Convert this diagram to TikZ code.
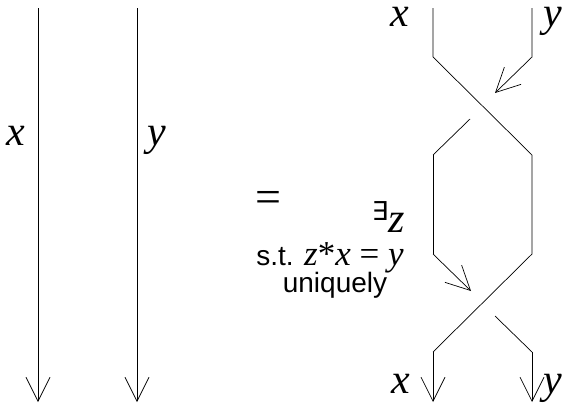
\documentclass[tikz,border=0pt]{standalone}
\usepackage{fontspec}
\setmainfont{Liberation Serif}
\setsansfont{Liberation Sans}
\newfontfamily\symfont{DejaVu Sans}
\usetikzlibrary{arrows.meta}

\begin{document}
\begin{tikzpicture}[x=1pt, y=-1pt,
  strand/.style={line width=0.7pt},
  tip/.style={-{Straight Barb[length=24pt,width=24pt,line width=0.7pt]}},
  lbl/.style={anchor=base, inner sep=0pt, font=\fontsize{42}{42}\selectfont\itshape},
  txt/.style={anchor=base, inner sep=0pt, font=\fontsize{28}{28}\selectfont\sffamily}
]
\useasboundingbox (0,0) rectangle (564,405);
% left: two straight strands
\coordinate (xa) at (38,8);   \coordinate (xb) at (38,402);
\coordinate (ya) at (137,8);  \coordinate (yb) at (137,402);
\draw[strand,tip] (xa) -- (xb);
\draw[strand,tip] (ya) -- (yb);
\node[lbl] (xl) at (16,145) {x};
\node[lbl] (yl) at (157,145) {y};
% right: braid, upper crossing
\coordinate (p1) at (433,8);   \coordinate (q1) at (532,8);
\coordinate (p2) at (433,57);  \coordinate (q2) at (532,57);
\coordinate (p3) at (433,155); \coordinate (q3) at (532,155);
\coordinate (u1) at (495,93);  \coordinate (u2) at (470,119);
\draw[strand] (p1) -- (p2) -- (q3);
\draw[strand,tip] (q1) -- (q2) -- (u1);
\draw[strand] (u2) -- (p3);
% lower crossing
\coordinate (p4) at (433,254); \coordinate (q4) at (532,254);
\coordinate (p5) at (433,352); \coordinate (q5) at (532,352);
\coordinate (p6) at (433,402); \coordinate (q6) at (532,402);
\coordinate (w1) at (471,291); \coordinate (w2) at (495,316);
\draw[strand] (p3) -- (p4);
\draw[strand] (q3) -- (q4) -- (p5);
\draw[strand,tip] (p4) -- (w1);
\draw[strand] (w2) -- (q5);
\draw[strand,tip] (p5) -- (p6);
\draw[strand,tip] (q5) -- (q6);
\node[lbl] (xt) at (400,26) {x};
\node[lbl] (yt) at (553,26) {y};
\node[lbl] (xbl) at (401,393) {x};
\node[lbl] (ybl) at (553,393) {y};
% middle text
\node[anchor=center, inner sep=0pt, font=\fontsize{46}{46}\selectfont] (eq) at (268,202) {=};
\node[anchor=center, inner sep=0pt, font=\fontsize{26}{26}\selectfont\symfont] (ex) at (380,211) {∃};
\node[lbl] (zl) at (397,232) {z};
\node[txt] (st) at (330,265) {s.t. {\rmfamily\fontsize{35}{35}\selectfont\textit{z}*\textit{x} = \textit{y}}};
\node[txt] (un) at (335,292) {uniquely};
\end{tikzpicture}
\end{document}
